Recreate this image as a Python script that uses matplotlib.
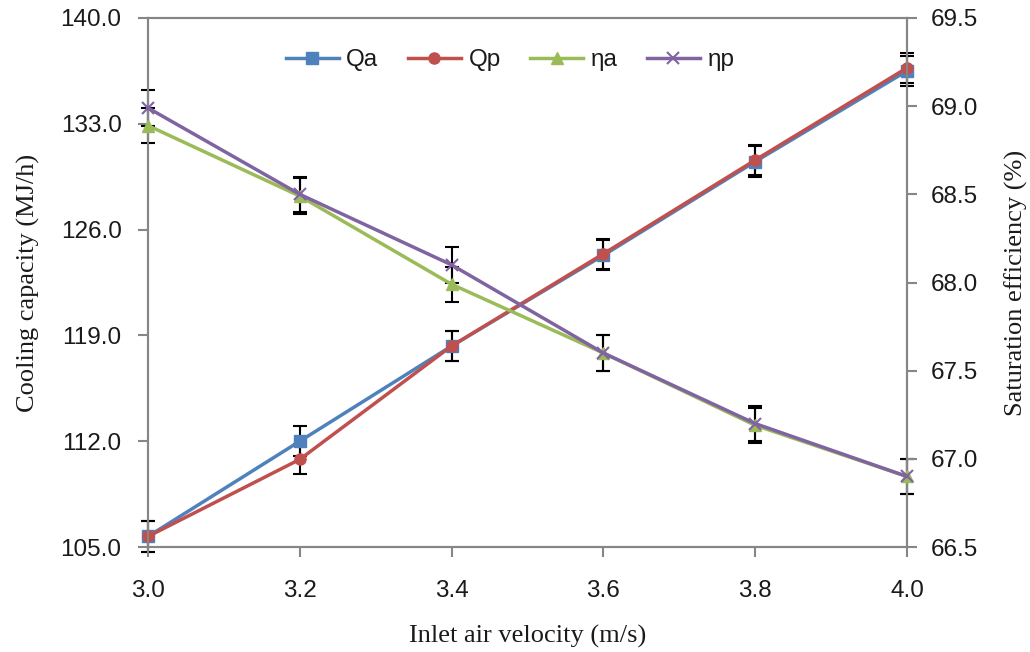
import numpy as np
import matplotlib
matplotlib.use("Agg")
import matplotlib.pyplot as plt
from matplotlib.ticker import FormatStrFormatter

# Data
velocity = [3.0, 3.2, 3.4, 3.6, 3.8, 4.0]
q_a = [105.7, 112.0, 118.3, 124.3, 130.5, 136.5]
q_p = [105.7, 110.8, 118.3, 124.4, 130.6, 136.7]
eta_a = [68.89, 68.49, 67.99, 67.60, 67.19, 66.90]
eta_p = [68.99, 68.50, 68.10, 67.60, 67.20, 66.90]
q_err = 1.0
eta_err = 0.1

C_QA = "#4F81BD"
C_QP = "#C0504D"
C_EA = "#9BBB59"
C_EP = "#8064A2"
SPINE = "#868686"
TXT = "#1a1a1a"

fig = plt.figure(figsize=(10.3, 6.52), dpi=100)
ax = fig.add_axes([0.1437, 0.161, 0.7369, 0.8114])
ax2 = ax.twinx()

err_kw = dict(fmt="none", ecolor="black", elinewidth=1.5, capsize=5, capthick=1.5)

# Error bars go underneath the lines/markers
for a, y, e in [(ax, q_a, q_err), (ax, q_p, q_err), (ax2, eta_a, eta_err), (ax2, eta_p, eta_err)]:
    eb = a.errorbar(velocity, y, yerr=e, zorder=1, **err_kw)
    for art in eb.lines[1] + eb.lines[2]:
        art.set_clip_on(False)

l1, = ax.plot(velocity, q_a, color=C_QA, lw=2.5, marker="s", ms=8, zorder=3, clip_on=False, label="Qa")
l2, = ax.plot(velocity, q_p, color=C_QP, lw=2.5, marker="o", ms=8, zorder=3, clip_on=False, label="Qp")
l3, = ax2.plot(velocity, eta_a, color=C_EA, lw=2.5, marker="^", ms=9, zorder=3, clip_on=False, label="ηa")
l4, = ax2.plot(velocity, eta_p, color=C_EP, lw=2.5, marker="x", ms=9, mew=1.5, zorder=3, clip_on=False, label="ηp")

ax.set_xlim(3.0, 4.0)
ax.set_ylim(105, 140)
ax2.set_ylim(66.5, 69.5)
ax.set_xticks(np.arange(3.0, 4.01, 0.2))
ax.set_yticks(np.arange(105, 140.1, 7))
ax2.set_yticks(np.arange(66.5, 69.51, 0.5))
ax.xaxis.set_major_formatter(FormatStrFormatter("%.1f"))
ax.yaxis.set_major_formatter(FormatStrFormatter("%.1f"))
ax2.yaxis.set_major_formatter(FormatStrFormatter("%.1f"))

for a in (ax, ax2):
    for s in a.spines.values():
        s.set_color(SPINE)
        s.set_linewidth(1.5)
    a.tick_params(direction="out", length=7, width=1.5, color=SPINE,
                  labelsize=17.5, labelcolor=TXT)
    for lab in a.get_xticklabels() + a.get_yticklabels():
        lab.set_fontfamily("Liberation Sans")
ax.tick_params(axis="x", pad=17)
ax.tick_params(axis="y", pad=12)
ax2.tick_params(axis="y", pad=10)

serif = "Liberation Serif"
ax.set_xlabel("Inlet air velocity (m/s)", fontsize=19, family=serif, color=TXT, labelpad=16)
ax.set_ylabel("Cooling capacity (MJ/h)", fontsize=19, family=serif, color=TXT, labelpad=15)
ax2.set_ylabel("Saturation efficiency (%)", fontsize=19, family=serif, color=TXT, labelpad=19)

leg = ax2.legend(handles=[l1, l2, l3, l4], ncol=4, loc="center",
                 bbox_to_anchor=(510 / 1030, 1 - 60 / 652), bbox_transform=fig.transFigure,
                 frameon=False, handlelength=2.2, handletextpad=0.3, columnspacing=1.2,
                 prop={"family": "Liberation Sans", "size": 17.5})
for t in leg.get_texts():
    t.set_color(TXT)

fig.savefig("out.png", dpi=100)
